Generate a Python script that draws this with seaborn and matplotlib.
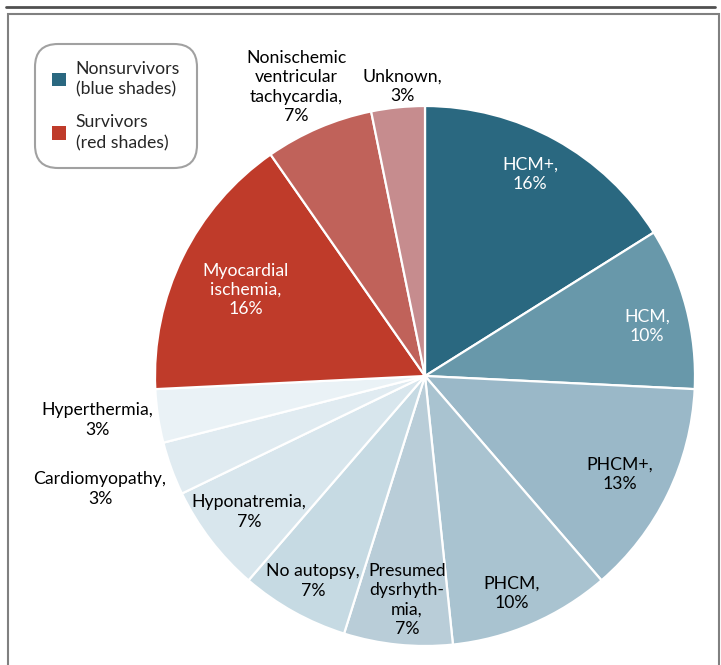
# Import Libraries
import matplotlib
matplotlib.use("Agg")
import matplotlib.pyplot as plt
import seaborn as sns
from matplotlib.patches import Patch, Rectangle
from matplotlib.lines import Line2D

sns.set_style("white")
plt.rcParams["font.family"] = ["Lato", "DejaVu Sans"]

# -------------------------------
# Data (clockwise from 12 o'clock)
# -------------------------------
causes = ["HCM+", "HCM", "PHCM+", "PHCM", "Presumed\ndysrhyth-\nmia", "No autopsy",
          "Hyponatremia", "Cardiomyopathy", "Hyperthermia", "Myocardial\nischemia",
          "Nonischemic\nventricular\ntachycardia", "Unknown"]
shares = [16.1, 9.7, 12.9, 9.7, 6.5, 6.5, 6.5, 3.2, 3.2, 16.1, 6.5, 3.2]
pct_labels = ["16%", "10%", "13%", "10%", "7%", "7%", "7%", "3%", "3%", "16%", "7%", "3%"]
colors = ["#2a6880", "#6898aa", "#9ab8c8", "#a9c3d0", "#b9cdd8", "#c6dae3",
          "#d8e6ed", "#e0ebf1", "#eaf2f6", "#bf3b2a", "#c0625a", "#c68c8e"]

# label placement (pixel coords in the 721x665 image) and text colour
label_pos = [(530, 174), (647, 326), (620, 474), (512, 593), (407, 600), (313, 581),
             (249, 512), (100, 489), (97, 420), (246, 290), (296, 87), (402, 86)]
label_col = ["white", "white", "black", "black", "black", "black",
             "black", "black", "black", "white", "black", "black"]

W, H = 721, 665

# -------------------------------
# Figure
# -------------------------------
fig = plt.figure(figsize=(W / 100, H / 100), dpi=100)
ax = fig.add_axes([0, 0, 1, 1])

ax.pie(shares, colors=colors, startangle=90, counterclock=False,
       center=(425, H - 376), radius=270, frame=True,
       wedgeprops=dict(edgecolor="white", linewidth=1.6))
ax.set_xlim(0, W)
ax.set_ylim(0, H)
ax.axis("off")

for name, pct, (px, py), c in zip(causes, pct_labels, label_pos, label_col):
    ax.text(px, H - py, name + ",\n" + pct, ha="center", va="center",
            fontsize=12.7, color=c, linespacing=1.25)

# legend
handles = [Patch(facecolor="#2a6880", edgecolor="none"),
           Patch(facecolor="#bf3b2a", edgecolor="none")]
leg = ax.legend(handles, ["Nonsurvivors\n(blue shades)", "Survivors\n(red shades)"],
                loc="upper left", bbox_to_anchor=(35 / W, 1 - 44 / H),
                bbox_transform=fig.transFigure, borderaxespad=0, fontsize=12.7,
                handlelength=0.8, handleheight=0.8, handletextpad=0.55,
                labelspacing=0.95, borderpad=0.95, frameon=True, fancybox=True)
for t in leg.get_texts():
    t.set_linespacing(1.35)
frame = leg.get_frame()
frame.set_boxstyle("round", pad=0, rounding_size=1.3)
frame.set_edgecolor("#8a8a8a")
frame.set_linewidth(1.5)

# outer frame: rule at the top and open-bottom box
fig.add_artist(Line2D([6 / W, 715 / W], [1 - 7 / H, 1 - 7 / H],
                      transform=fig.transFigure, color="#505050", linewidth=2))
fig.add_artist(Rectangle((8 / W, -0.05), 711 / W, 1.05 - 14 / H,
                         transform=fig.transFigure, fill=False,
                         edgecolor="#808080", linewidth=1.5))

plt.savefig("out.png", dpi=100)
